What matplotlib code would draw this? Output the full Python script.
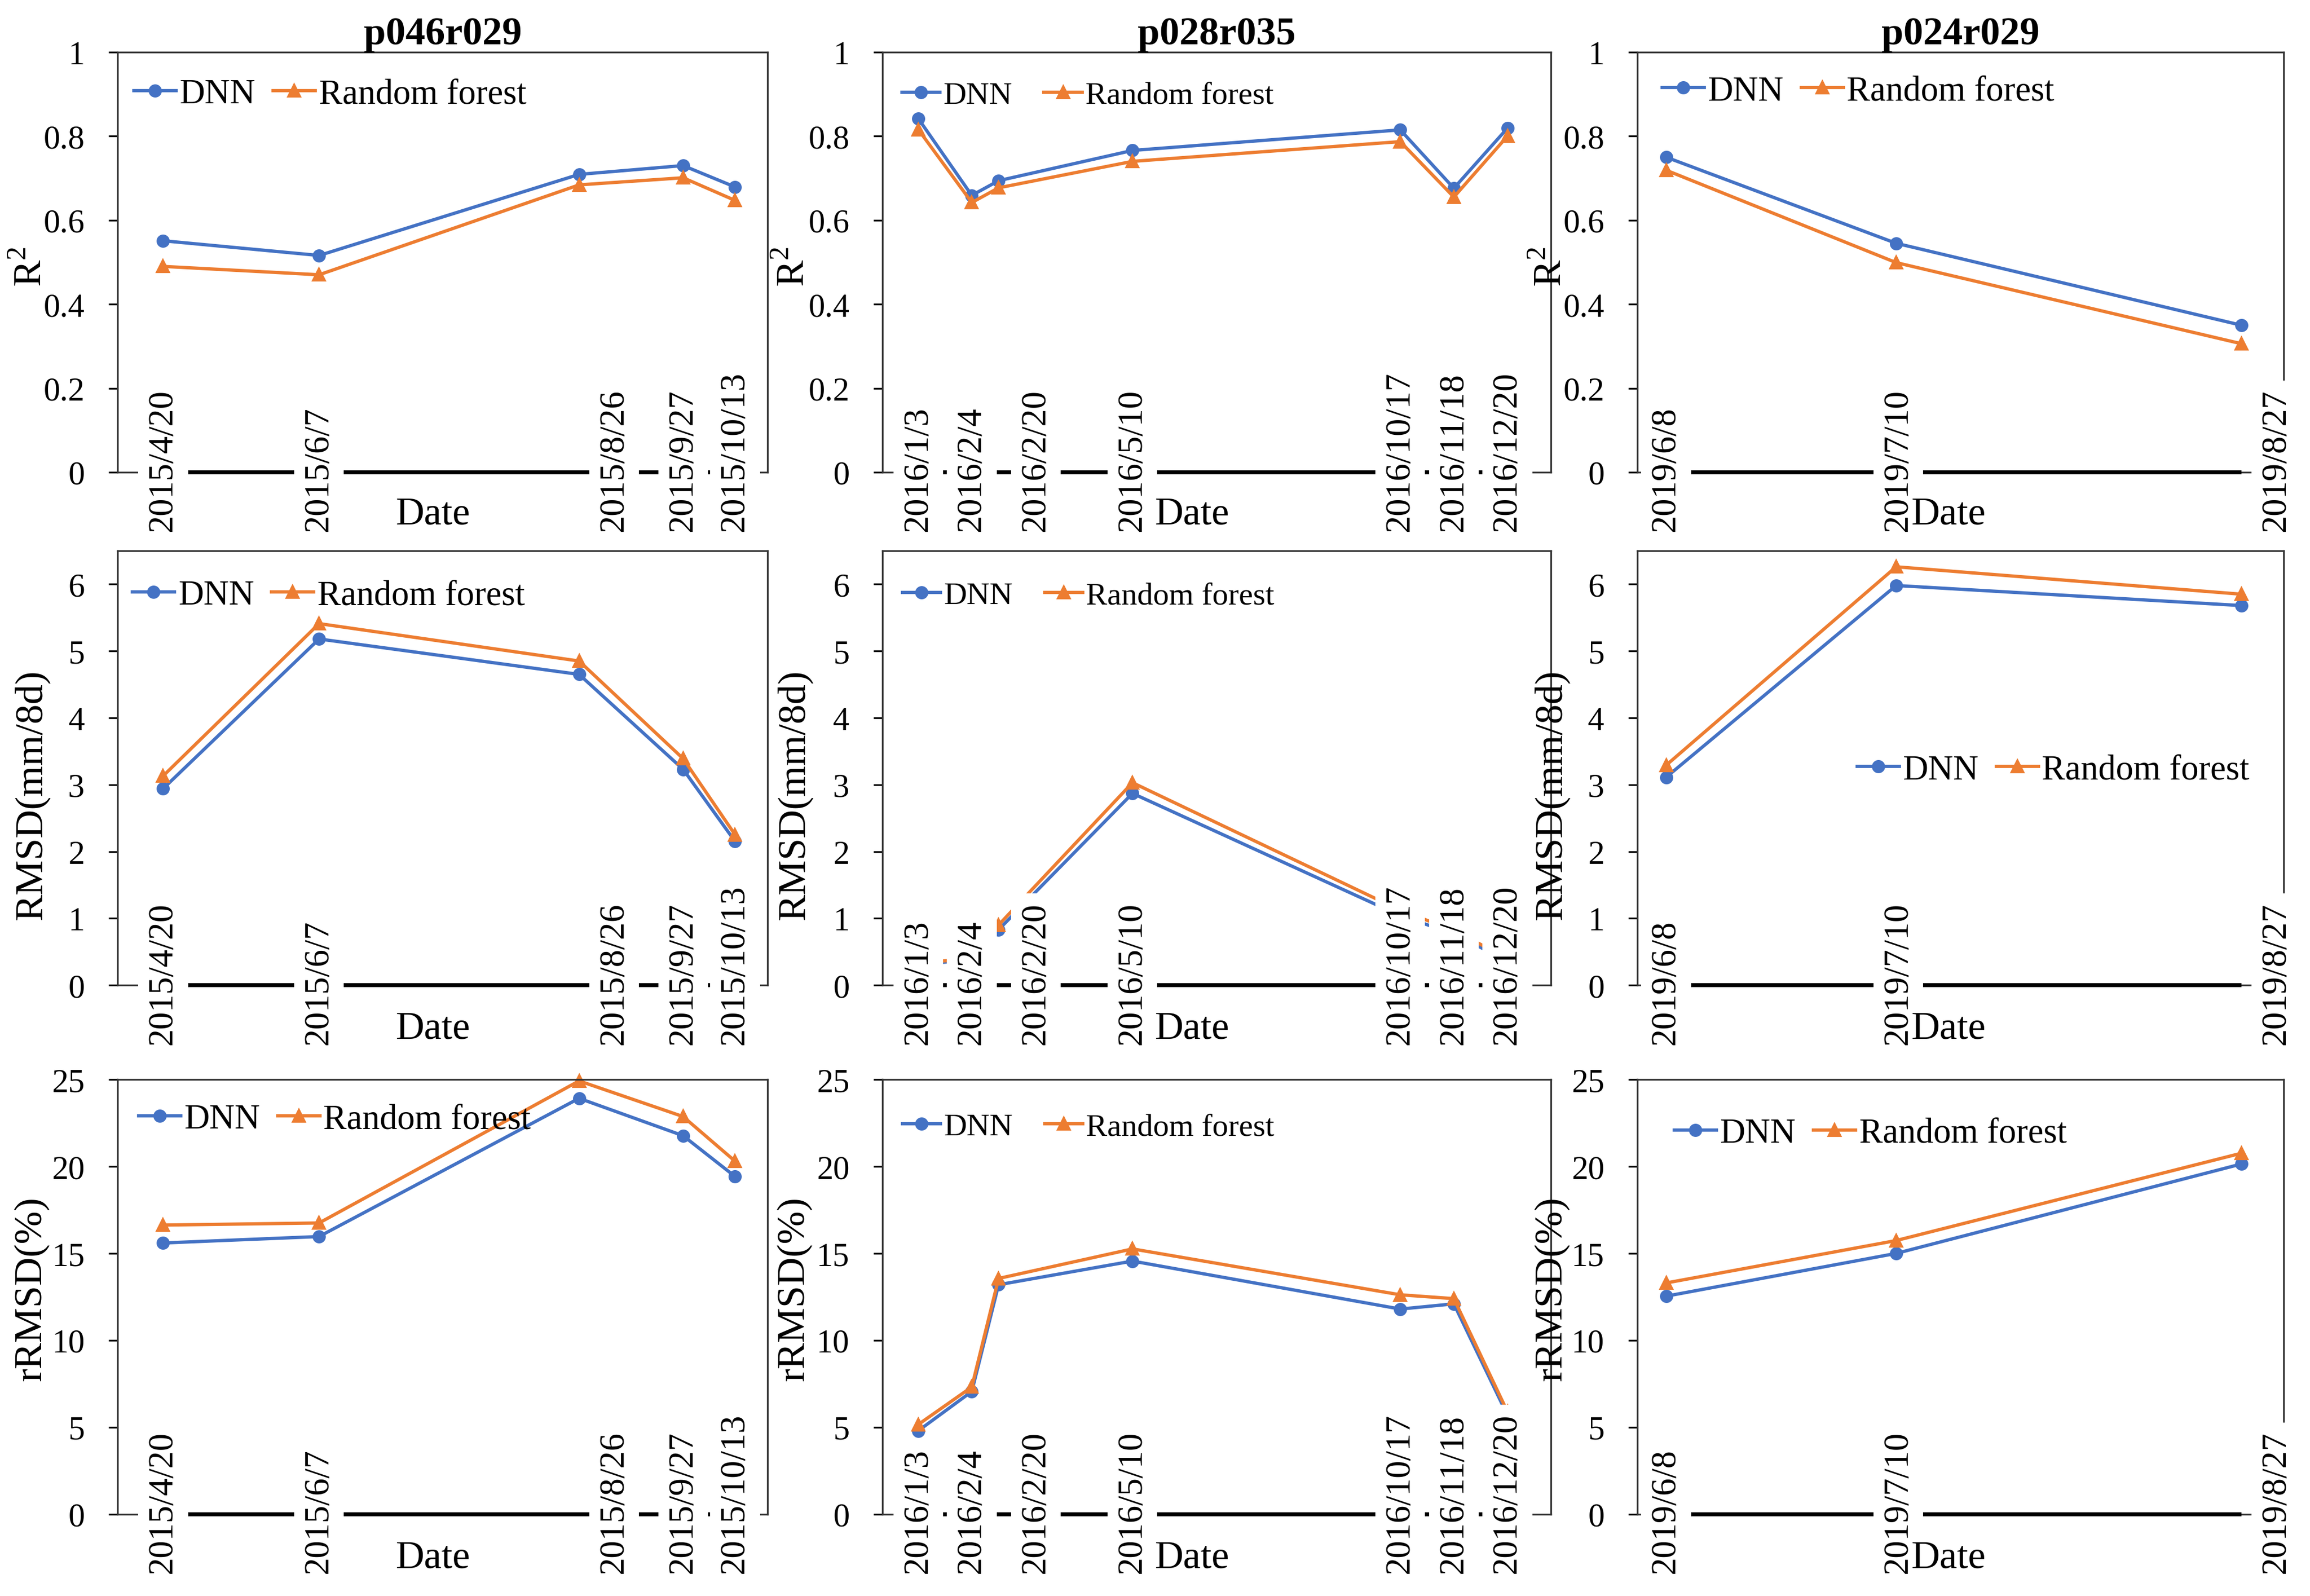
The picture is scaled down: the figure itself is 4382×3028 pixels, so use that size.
import numpy as np
import pandas as pd
import matplotlib
matplotlib.use('Agg')
import matplotlib.pyplot as plt
import matplotlib.dates as mdates
import matplotlib.transforms as mtransforms

plt.rcParams['font.family'] = ['Liberation Serif', 'DejaVu Serif']
plt.rcParams['mathtext.fontset'] = 'custom'
plt.rcParams['mathtext.rm'] = 'Liberation Serif'

# ---- data ----
sites = ['p046r029', 'p028r035', 'p024r029']

dates_p046 = ['2015-04-20', '2015-06-07', '2015-08-26', '2015-09-27', '2015-10-13']
dates_p028 = ['2016-01-03', '2016-02-04', '2016-02-20', '2016-05-10', '2016-10-17', '2016-11-18', '2016-12-20']
dates_p024 = ['2019-06-08', '2019-07-10', '2019-08-27']

ticks_p046 = ['2015/4/20', '2015/6/7', '2015/8/26', '2015/9/27', '2015/10/13']
ticks_p028 = ['2016/1/3', '2016/2/4', '2016/2/20', '2016/5/10', '2016/10/17', '2016/11/18', '2016/12/20']
ticks_p024 = ['2019/6/8', '2019/7/10', '2019/8/27']

# R2
r2_dnn_p046 = [0.551, 0.516, 0.709, 0.730, 0.679]
r2_rf_p046 = [0.490, 0.470, 0.684, 0.701, 0.647]
r2_dnn_p028 = [0.842, 0.659, 0.694, 0.766, 0.815, 0.676, 0.819]
r2_rf_p028 = [0.816, 0.642, 0.677, 0.740, 0.787, 0.655, 0.800]
r2_dnn_p024 = [0.750, 0.545, 0.350]
r2_rf_p024 = [0.719, 0.499, 0.306]

# RMSD (mm/8d)
rmsd_dnn_p046 = [2.94, 5.18, 4.65, 3.23, 2.15]
rmsd_rf_p046 = [3.13, 5.41, 4.85, 3.39, 2.25]
rmsd_dnn_p028 = [0.31, 0.38, 0.83, 2.87, 1.04, 0.77, 0.36]
rmsd_rf_p028 = [0.33, 0.40, 0.90, 3.03, 1.12, 0.82, 0.40]
rmsd_dnn_p024 = [3.11, 5.98, 5.68]
rmsd_rf_p024 = [3.29, 6.26, 5.85]

# rRMSD (%)
rrmsd_dnn_p046 = [15.6, 15.97, 23.92, 21.77, 19.42]
rrmsd_rf_p046 = [16.63, 16.75, 24.92, 22.87, 20.3]
rrmsd_dnn_p028 = [4.8, 7.06, 13.2, 14.56, 11.8, 12.1, 5.7]
rrmsd_rf_p028 = [5.16, 7.32, 13.56, 15.26, 12.62, 12.4, 5.9]
rrmsd_dnn_p024 = [12.54, 15.0, 20.14]
rrmsd_rf_p024 = [13.3, 15.74, 20.76]

ylabels = ['R$^{\\mathrm{2}}$', 'RMSD(mm/8d)', 'rRMSD(%)']
ytops = [1, 6.5, 25]
ysteps = [0.2, 1, 5]

dates = [pd.to_datetime(dates_p046), pd.to_datetime(dates_p028), pd.to_datetime(dates_p024)]
ticklabels = [ticks_p046, ticks_p028, ticks_p024]
dnn = [[r2_dnn_p046, r2_dnn_p028, r2_dnn_p024],
       [rmsd_dnn_p046, rmsd_dnn_p028, rmsd_dnn_p024],
       [rrmsd_dnn_p046, rrmsd_dnn_p028, rrmsd_dnn_p024]]
rf = [[r2_rf_p046, r2_rf_p028, r2_rf_p024],
      [rmsd_rf_p046, rmsd_rf_p028, rmsd_rf_p024],
      [rrmsd_rf_p046, rrmsd_rf_p028, rrmsd_rf_p024]]

# ---- layout / style ----
col_x = [(0.0509, 0.2814), (0.3820, 0.2894), (0.7088, 0.2798)]
row_y = [(0.7039, 0.2631), (0.3826, 0.2721), (0.0512, 0.2723)]
xpad = [(14, 10), (21.4, 26), (4, 5.9)]           # days of margin left/right
label_shift = [{2: 16}, {2: 17}, {1: 1, 2: 16}]   # pt shift of crowded date labels
ylab_y = [0.49, 0.44, 0.52]
date_x = [0.485, 0.463, 0.482]
leg_pos = [[(0.025, 0.90), (0.029, 0.897), (0.038, 0.907)],
           [(0.023, 0.897), (0.03, 0.896), (0.34, 0.495)],
           [(0.032, 0.908), (0.03, 0.89), (0.057, 0.876)]]
leg_size = [16, 14.5, 16]
leg_space = [0.5, 1.0, 0.5]

blue = '#4472C4'
orange = '#ED7D31'

fig = plt.figure(figsize=(4382 / 300, 3029 / 300), dpi=300)

for r in range(3):
    for c in range(3):
        ax = fig.add_axes([col_x[c][0], row_y[r][0], col_x[c][1], row_y[r][1]])
        d = dates[c]
        ax.plot(d, dnn[r][c], color=blue, lw=1.5, marker='o', ms=5, label='DNN', clip_on=False, zorder=2)
        ax.plot(d, rf[r][c], color=orange, lw=1.5, marker='^', ms=5.5, label='Random forest', clip_on=False, zorder=2)

        ax.set_xlim(d[0] - pd.Timedelta(days=xpad[c][0]), d[-1] + pd.Timedelta(days=xpad[c][1]))
        ax.set_ylim(0, ytops[r])
        ax.set_yticks(np.arange(0, ytops[r] + 1e-9, ysteps[r]))
        ax.yaxis.set_major_formatter(plt.FuncFormatter(lambda v, p: '%g' % round(v, 2)))
        ax.set_xticks([])
        ax.tick_params(axis='y', direction='out', length=4, width=0.8, pad=11, labelsize=15)
        for sp in ax.spines.values():
            sp.set_linewidth(0.8)
            sp.set_color('#333333')

        # date axis line
        ax.hlines(0, d[0], d[-1], color='black', lw=1.8, zorder=2.6, clip_on=False)

        # date labels with white boxes
        for i, (x, lab) in enumerate(zip(d, ticklabels[c])):
            dx = label_shift[c].get(i, 0)
            tr = ax.get_xaxis_transform() + mtransforms.ScaledTranslation(dx / 72, -27 / 72, fig.dpi_scale_trans)
            ax.text(mdates.date2num(x), 0, lab, transform=tr, rotation=90, rotation_mode='anchor',
                    ha='left', va='center', fontsize=16, zorder=4,
                    bbox=dict(facecolor='white', edgecolor='none', pad=4))

        ax.text(date_x[c], -0.1, 'Date', transform=ax.transAxes, ha='center', va='center',
                fontsize=18, zorder=6)
        ax.set_ylabel(ylabels[r], fontsize=18)
        ax.yaxis.set_label_coords(-0.105, ylab_y[r])

        if r == 0:
            ax.set_title(sites[c], fontsize=18, fontweight='bold', pad=3)

        ax.legend(loc='center left', bbox_to_anchor=leg_pos[r][c], ncol=2, frameon=False,
                  fontsize=leg_size[c], borderpad=0, borderaxespad=0, handlelength=1.2,
                  handletextpad=0.1, columnspacing=leg_space[c])

fig.savefig('out.png', dpi=300)
